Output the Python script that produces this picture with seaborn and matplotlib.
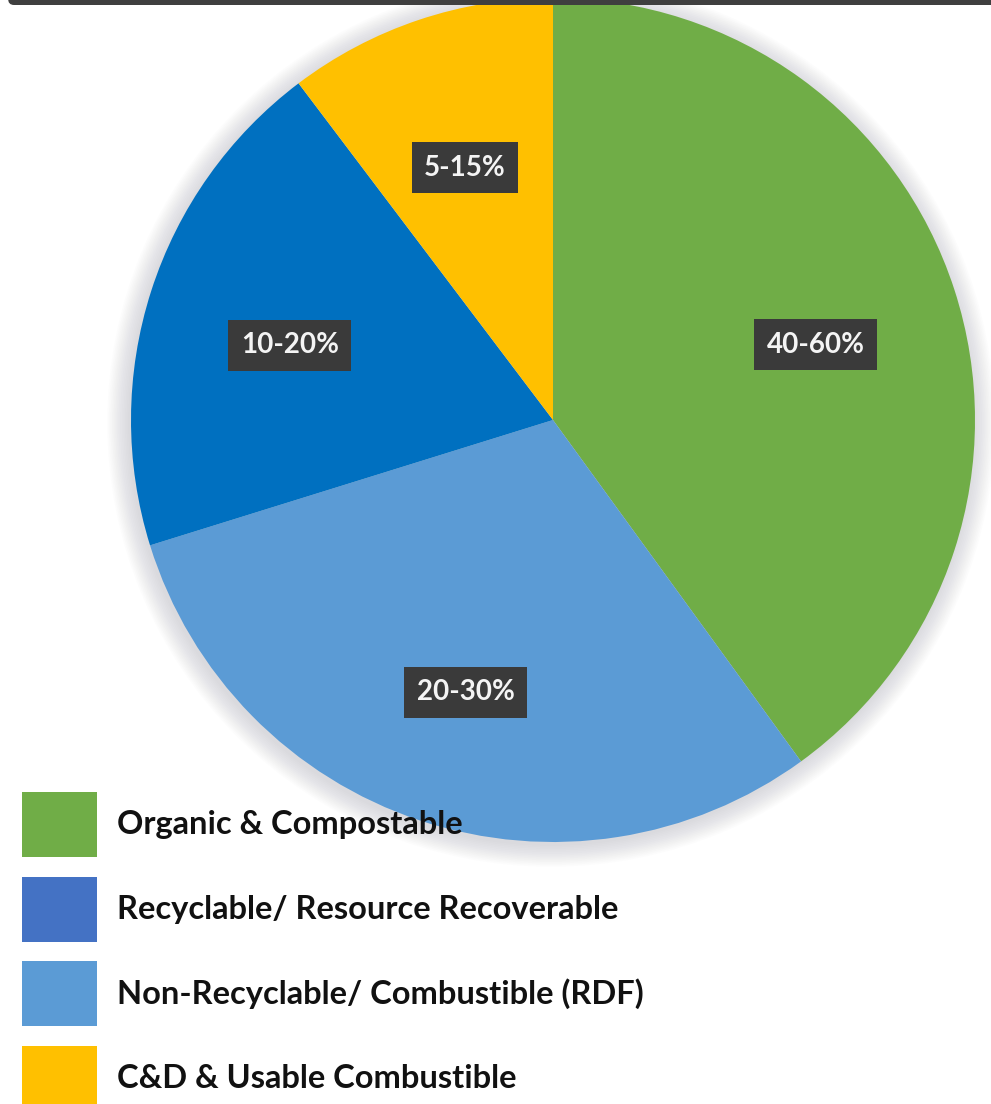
import matplotlib
matplotlib.use("Agg")
import matplotlib.pyplot as plt
import matplotlib.patches as mpatches
import seaborn as sns

# waste composition shares
categories = ["Organic & Compostable", "Non-Recyclable/ Combustible (RDF)",
              "Recyclable/ Resource Recoverable", "C&D & Usable Combustible"]
shares = [40.0, 30.2, 19.5, 10.3]
range_labels = ["40-60%", "20-30%", "10-20%", "5-15%"]
slice_colors = ["#70AD47", "#5B9BD5", "#0070C0", "#FFC000"]

# legend order / colours as shown under the chart
legend_names = ["Organic & Compostable", "Recyclable/ Resource Recoverable",
                "Non-Recyclable/ Combustible (RDF)", "C&D & Usable Combustible"]
legend_colors = ["#70AD47", "#4472C4", "#5B9BD5", "#FFC000"]

sns.set_theme(style="white")
plt.rcParams['font.family'] = ['Lato', 'DejaVu Sans']

W, H = 991, 1104
fig = plt.figure(figsize=(W / 100, H / 100), dpi=100)
ax = fig.add_axes([0, 0, 1, 1])

cx, cy, r = 553, H - 420, 422

# soft glow behind the pie
for i in range(14):
    ax.pie([1], radius=r + 1 + i * 1.6, center=(cx - 2, cy - 3),
           colors=[(0.5, 0.5, 0.55, 0.02)], wedgeprops=dict(linewidth=0),
           frame=True)

wedges, texts = ax.pie(shares, labels=range_labels, colors=slice_colors,
                       startangle=90, counterclock=False, radius=r,
                       center=(cx, cy), labeldistance=0.655, frame=True,
                       wedgeprops=dict(linewidth=0))
ax.set_xlim(0, W)
ax.set_ylim(0, H)
ax.set_aspect('equal')
ax.axis('off')

for t in texts:
    x, y = t.get_position()
    t.set_position((x, y - 10))
    t.set_ha('center')
    t.set_va('center')
    t.set_color('#F4F4F4')
    t.set_fontsize(20)
    t.set_fontweight('bold')
    t.set_bbox(dict(boxstyle='square,pad=0.45', facecolor='#3A3A3A',
                    edgecolor='none'))

# dark bar along the top edge
fig.patches.append(mpatches.FancyBboxPatch((8 / W, 1 - 5 / H), 1.0, 10 / H,
                                           boxstyle='round,pad=0,rounding_size=0.006',
                                           transform=fig.transFigure,
                                           facecolor='#3F3F3F', edgecolor='none'))

handles = [mpatches.Patch(facecolor=c, edgecolor='none') for c in legend_colors]
fs = 23.5
leg = fig.legend(handles, legend_names, loc='upper left',
                 bbox_to_anchor=(22 / W, 1 - 792 / H), frameon=False,
                 fontsize=fs, handlelength=2.3, handleheight=2.69,
                 labelspacing=0.6, handletextpad=0.61, borderpad=0,
                 borderaxespad=0)
for t in leg.get_texts():
    t.set_fontweight('bold')
    t.set_color('#111111')

fig.savefig("out.png", dpi=100)
